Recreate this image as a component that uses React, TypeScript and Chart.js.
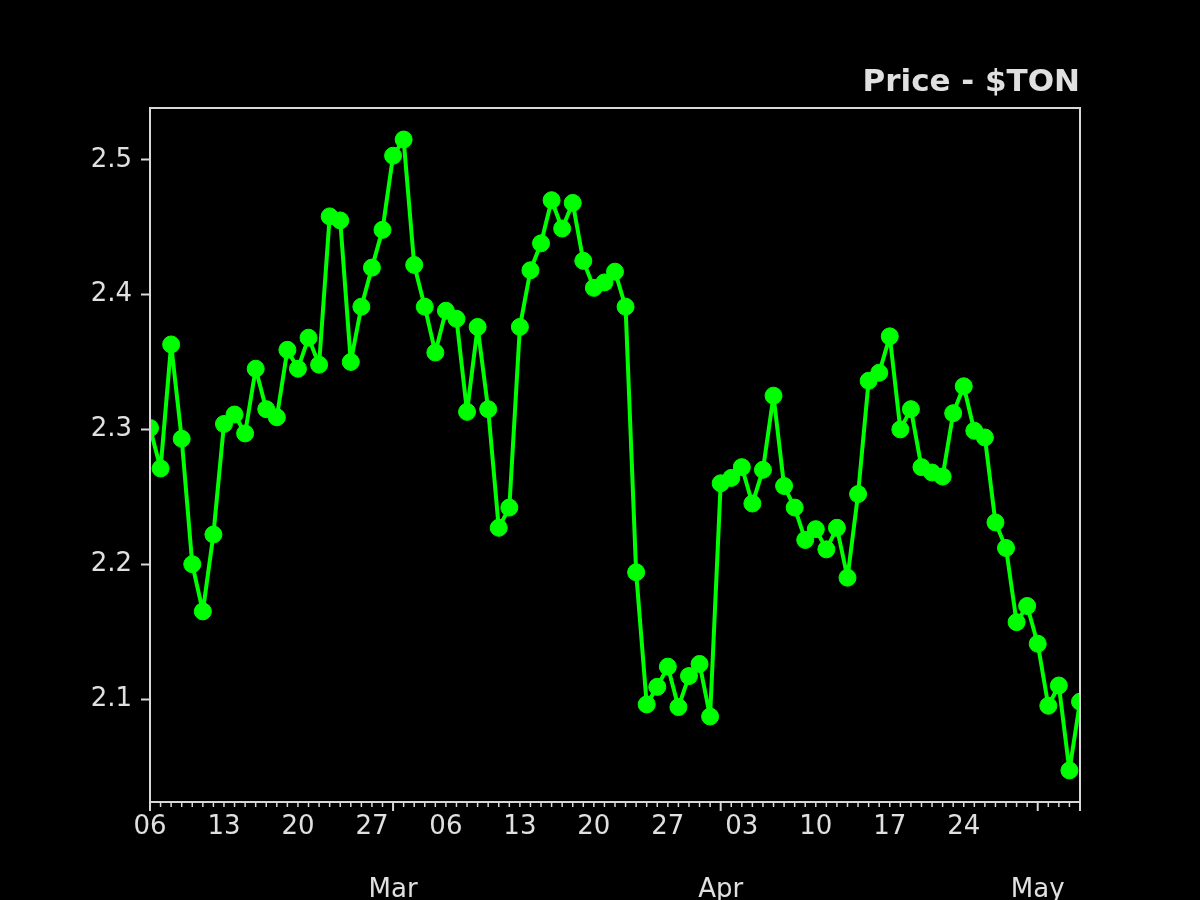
import { useEffect, useRef } from "react";
import { Chart, registerables } from "chart.js";

Chart.register(...registerables);

// Daily closing price of $TON, one value per day starting 06 Feb
const prices = [
  2.301, 2.271, 2.363, 2.293, 2.200, 2.165, 2.222, 2.304, 2.311, 2.297,
  2.345, 2.315, 2.309, 2.359, 2.345, 2.368, 2.348, 2.458, 2.455, 2.350,
  2.391, 2.420, 2.448, 2.503, 2.515, 2.422, 2.391, 2.357, 2.388, 2.382,
  2.313, 2.376, 2.315, 2.227, 2.242, 2.376, 2.418, 2.438, 2.470, 2.449,
  2.468, 2.425, 2.405, 2.409, 2.417, 2.391, 2.194, 2.096, 2.109, 2.124,
  2.094, 2.117, 2.126, 2.087, 2.260, 2.264, 2.272, 2.245, 2.270, 2.325,
  2.258, 2.242, 2.218, 2.226, 2.211, 2.227, 2.190, 2.252, 2.336, 2.342,
  2.369, 2.300, 2.315, 2.272, 2.268, 2.265, 2.312, 2.332, 2.299, 2.294,
  2.231, 2.212, 2.157, 2.169, 2.141, 2.095, 2.110, 2.047, 2.098,
];

// Day offsets (from 06 Feb) of the weekly labels
const weekTickDays = [0, 7, 14, 21, 28, 35, 42, 49, 56, 63, 70, 77];
const weekTickLabels = ["06", "13", "20", "27", "06", "13", "20", "27", "03", "10", "17", "24"];
// Day offsets of the month starts
const monthTickDays = [23, 54, 84];
const monthTickLabels = ["Mar", "Apr", "May"];
// Days with long tick marks
const longTickDays = [0, 23, 54, 84, 88];
const yTickValues = [2.1, 2.2, 2.3, 2.4, 2.5];
const chartTitle = "Price - $TON";

const LINE = "#00ff00";
const TEXT = "#e0e0e0";
const SPINE = "#d8d8d8";
const FONT = "'DejaVu Sans', sans-serif";

export default function App() {
  const ref = useRef<HTMLCanvasElement | null>(null);

  useEffect(() => {
    if (!ref.current) return;
    const yMin = Math.min(...prices);
    const yMax = Math.max(...prices);
    const yPad = (yMax - yMin) * 0.05;
    const lastDay = prices.length - 1;

    const xTicks = [...weekTickDays, ...monthTickDays].sort((a, b) => a - b);

    const boxPlugin = {
      id: "boxAndTicks",
      afterDraw(chart: any) {
        const { ctx, chartArea: a } = chart;
        const x = chart.scales.x;
        ctx.save();
        ctx.strokeStyle = SPINE;
        ctx.lineWidth = 2;
        ctx.strokeRect(a.left, a.top, a.right - a.left, a.bottom - a.top);
        for (let d = 0; d <= lastDay; d++) {
          const px = x.getPixelForValue(d);
          const long = longTickDays.includes(d);
          ctx.lineWidth = long ? 2 : 1.5;
          ctx.beginPath();
          ctx.moveTo(px, a.bottom);
          ctx.lineTo(px, a.bottom + (long ? 9 : 5));
          ctx.stroke();
        }
        ctx.restore();
      },
    };

    const chart = new Chart(ref.current, {
      type: "line",
      data: {
        datasets: [
          {
            data: prices.map((v, i) => ({ x: i, y: v })),
            borderColor: LINE,
            backgroundColor: LINE,
            borderWidth: 4,
            borderJoinStyle: "round",
            borderCapStyle: "round",
            pointRadius: 8.5,
            pointBorderWidth: 1,
            pointBorderColor: LINE,
            pointBackgroundColor: LINE,
            tension: 0,
            clip: 0,
          },
        ],
      },
      options: {
        animation: false,
        responsive: false,
        devicePixelRatio: 1,
        layout: { padding: { left: 0, right: 120, top: 64, bottom: 0 } },
        plugins: {
          legend: { display: false },
          tooltip: { enabled: false },
          title: {
            display: true,
            text: chartTitle,
            align: "end",
            color: TEXT,
            font: { family: FONT, size: 31, weight: "bold", lineHeight: 1.2 },
            padding: { top: 0, bottom: 6.8 },
          },
        },
        scales: {
          x: {
            type: "linear",
            min: 0,
            max: lastDay,
            afterBuildTicks: (scale: any) => {
              scale.ticks = xTicks.map((v) => ({ value: v }));
            },
            afterFit: (scale: any) => {
              scale.height = 98;
            },
            ticks: {
              autoSkip: false,
              maxRotation: 0,
              minRotation: 0,
              padding: 5,
              color: TEXT,
              font: { family: FONT, size: 26, lineHeight: 1.2 },
              callback: (value: any) => {
                const mi = monthTickDays.indexOf(value);
                if (mi >= 0) return ["", "", monthTickLabels[mi]];
                const wi = weekTickDays.indexOf(value);
                return wi >= 0 ? weekTickLabels[wi] : "";
              },
            },
            grid: {
              drawOnChartArea: false,
              drawTicks: true,
              tickLength: 5,
              tickColor: "rgba(0,0,0,0)",
              color: "rgba(0,0,0,0)",
            },
            border: { display: false },
          },
          y: {
            type: "linear",
            min: yMin - yPad,
            max: yMax + yPad,
            afterBuildTicks: (scale: any) => {
              scale.ticks = yTickValues.map((v) => ({ value: v }));
            },
            afterFit: (scale: any) => {
              scale.width = 150;
            },
            ticks: {
              padding: 9,
              color: TEXT,
              font: { family: FONT, size: 26 },
              callback: (value: any) => Number(value).toFixed(1),
            },
            grid: {
              drawOnChartArea: false,
              drawTicks: true,
              tickLength: 9,
              tickWidth: 2,
              tickColor: SPINE,
              color: "rgba(0,0,0,0)",
            },
            border: { display: false },
          },
        },
      },
      plugins: [boxPlugin],
    });
    return () => chart.destroy();
  }, []);

  return (
    <div
      style={{
        position: "absolute",
        left: 0,
        top: 0,
        width: 1200,
        height: 900,
        background: "#000",
      }}
    >
      <canvas ref={ref} width={1200} height={900} style={{ width: 1200, height: 900, display: "block" }} />
    </div>
  );
}
